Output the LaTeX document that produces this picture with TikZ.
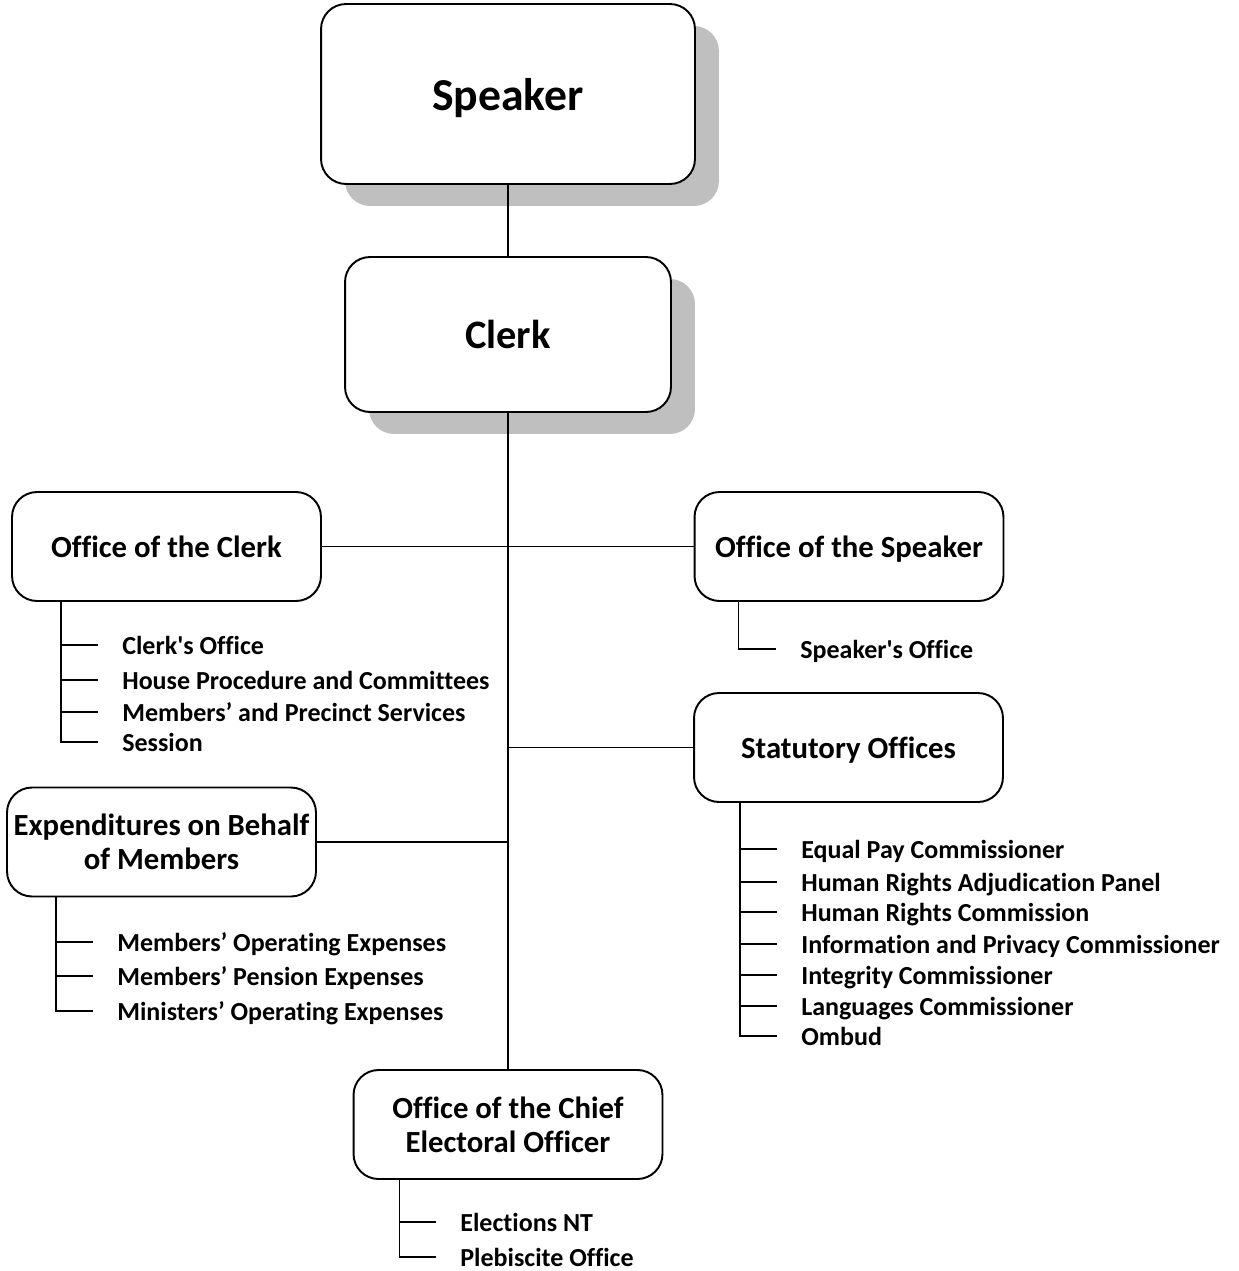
\documentclass[tikz,border=0pt]{standalone}
\usepackage{fontspec}
\setmainfont{Carlito}[Ligatures={TeXOff,NoCommon}]
\usetikzlibrary{shadows}

\begin{document}
\begin{tikzpicture}[x=0.02cm,y=-0.02cm,
  box/.style={draw,rounded corners=0.5cm,line width=1.1pt,fill=white,align=center,inner sep=0pt,
    minimum width=6.18cm,minimum height=2.18cm,font=\bfseries\fontsize{17.5}{19.5}\selectfont},
  topbox/.style={box,drop shadow={shadow xshift=0.48cm,shadow yshift=-0.44cm,fill=gray!50,opacity=1}},
  item/.style={anchor=west,inner xsep=0.48cm,inner ysep=0pt,text height=11pt,text depth=0pt,
    font=\bfseries\fontsize{14.8}{16}\selectfont},
  link/.style={line width=0.6pt},
  sub/.style={line width=0.9pt}]
\useasboundingbox (0,0) rectangle (1238,1271);
% Top of the chart
\node[topbox,text depth=0pt,minimum width=7.48cm,minimum height=3.6cm,font=\bfseries\fontsize{26}{30}\selectfont] (speaker) at (508,94) {Speaker};
\node[topbox,minimum width=6.52cm,minimum height=3.1cm,font=\bfseries\fontsize{23}{27}\selectfont] (clerk) at (508,334.5) {Clerk};
% Offices
\node[box] (ofclerk) at (166.5,546.5) {Office of the Clerk};
\node[box,text depth=0pt] (ofspeaker) at (849,546.5) {Office of the Speaker};
\node[box,text depth=0pt] (statutory) at (848.5,747.5) {Statutory Offices};
\node[box] (expend) at (161.5,842) {Expenditures on Behalf\\of Members};
\node[box] (chief) at (508,1124.5) {Office of the Chief\\Electoral Officer};
% Main lines
\coordinate (trunk) at (clerk.south);
\draw[link] (speaker) -- (clerk);
\draw[link] (clerk) -- (chief);
\draw[link] (ofclerk) -- (ofspeaker);
\draw[link] (statutory) -- (statutory -| trunk);
\draw[link] (expend) -- (expend -| trunk);
% Office of the Clerk units
\coordinate (clkbar) at ([xshift=1cm]ofclerk.south west);
\foreach \y/\txt [count=\i] in {645/Clerk's Office,680/House Procedure and Committees,
    712/Members’ and Precinct Services,742/Session} {
  \node[item] (clk\i) at (98,\y) {\txt};
  \draw[sub] (clk\i.west -| clkbar) -- (clk\i.west);
}
\draw[sub] (clkbar) |- (clk4.west);
% Office of the Speaker units
\coordinate (spkbar) at ([xshift=0.9cm]ofspeaker.south west);
\node[item] (spk1) at (776,649) {Speaker's Office};
\draw[sub] (spkbar) |- (spk1.west);
% Statutory offices
\coordinate (stabar) at ([xshift=0.94cm]statutory.south west);
\foreach \y/\txt [count=\i] in {849/Equal Pay Commissioner,882/Human Rights Adjudication Panel,
    912/Human Rights Commission,944/Information and Privacy Commissioner,
    975/Integrity Commissioner,1006/Languages Commissioner,1036/Ombud} {
  \node[item] (sta\i) at (777,\y) {\txt};
  \draw[sub] (sta\i.west -| stabar) -- (sta\i.west);
}
\draw[sub] (stabar) |- (sta7.west);
% Expenditures on behalf of members
\coordinate (expbar) at ([xshift=1cm]expend.south west);
\foreach \y/\txt [count=\i] in {942/Members’ Operating Expenses,976/Members’ Pension Expenses,
    1011/Ministers’ Operating Expenses} {
  \node[item] (exp\i) at (93,\y) {\txt};
  \draw[sub] (exp\i.west -| expbar) -- (exp\i.west);
}
\draw[sub] (expbar) |- (exp3.west);
% Chief Electoral Officer
\coordinate (cebar) at ([xshift=0.94cm]chief.south west);
\foreach \y/\txt [count=\i] in {1222/Elections NT,1257/Plebiscite Office} {
  \node[item] (ce\i) at (436,\y) {\txt};
  \draw[sub] (ce\i.west -| cebar) -- (ce\i.west);
}
\draw[sub] (cebar) |- (ce2.west);
\end{tikzpicture}
\end{document}
